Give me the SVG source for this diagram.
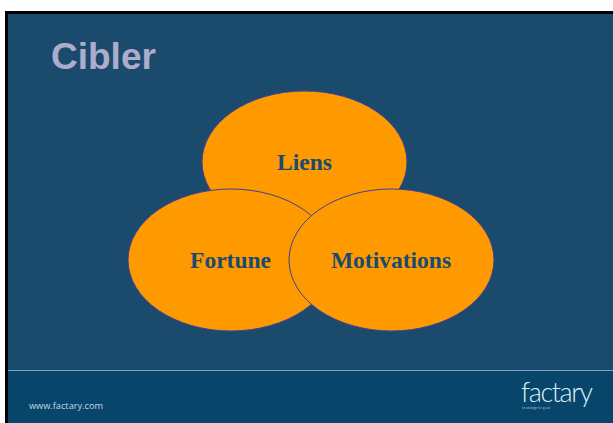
<svg xmlns="http://www.w3.org/2000/svg" width="613" height="423" viewBox="0 0 613 423">
<style>
.e{fill:#ff9900;stroke:#3f3f96;stroke-width:1}
.l{font-family:"Liberation Serif",serif;font-weight:bold;font-size:23.500px;fill:#1a4b6e;text-anchor:middle}
</style>
<rect width="613" height="423" fill="#fff"/>
<rect x="5" y="11" width="608" height="412" fill="#000"/>
<rect x="8" y="14" width="605" height="409" fill="#1a4b6d"/>
<rect x="8" y="371" width="605" height="52" fill="#07456b"/>
<rect x="8" y="370" width="605" height="1" fill="#6fa5bf"/>
<text x="51" y="69" font-family="Liberation Sans,sans-serif" font-weight="bold" font-size="37px" fill="#adadcb">Cibler</text>
<g id="node-liens"><ellipse class="e" cx="304.500" cy="162" rx="102.500" ry="71"/><text class="l" x="304.500" y="170">Liens</text></g>
<g id="node-fortune"><ellipse class="e" cx="231" cy="260" rx="103" ry="71"/><text class="l" x="230.500" y="268">Fortune</text></g>
<g id="node-motivations"><ellipse class="e" cx="391.500" cy="260" rx="102.500" ry="71"/><text class="l" x="391" y="268">Motivations</text></g>
<text x="29" y="409" font-family="Open Sans,sans-serif" font-size="9.200px" fill="#c5d8e4">www.factary.com</text>
<text x="521" y="402" font-family="Lato,sans-serif" font-weight="300" font-size="27px" fill="#dcf0f5" textLength="72">factary</text>
<text x="522" y="408.500" font-family="Open Sans,sans-serif" font-size="3.200px" fill="#a3c4d6" textLength="28">knowledge for good</text>
</svg>
